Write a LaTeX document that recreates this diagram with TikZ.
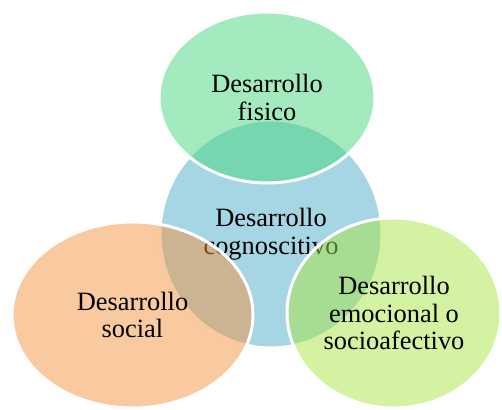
\documentclass[tikz,border=0pt]{standalone}
\usepackage{fontspec}
\setmainfont{Liberation Serif}
\usetikzlibrary{shapes.geometric}

\definecolor{cogblue}{RGB}{166,213,227}
\definecolor{fisgreen}{RGB}{71,215,125}
\definecolor{socorange}{RGB}{243,147,65}
\definecolor{emolime}{RGB}{167,229,69}

\tikzset{
	area/.style={ellipse, draw=white, line width=1.5pt, inner sep=0pt,
		align=center, font=\fontsize{13.2}{13.8}\selectfont,
		fill opacity=0.5, text opacity=1}
}

\begin{document}
\begin{tikzpicture}[x=0.5pt, y=-0.5pt]
	\useasboundingbox (0,0) rectangle (502,410);

	% Middle area {cog}
	\node [area, fill=cogblue, fill opacity=1, minimum width=111pt, minimum height=114pt]
		(cog) at (271,234) {Desarrollo\\cognoscitivo};

	% Outer areas {fis, soc, emo}
	\node [area, fill=fisgreen, minimum width=108pt, minimum height=85.5pt]
		(fis) at (267,97.5) {Desarrollo\\fisico};
	\node [area, fill=socorange, minimum width=120.5pt, minimum height=93pt]
		(soc) at (132.5,315) {Desarrollo\\social};
	\node [area, fill=emolime, minimum width=107pt, minimum height=95pt]
		(emo) at (394,313) {Desarrollo\\emocional o\\socioafectivo};

\end{tikzpicture}
\end{document}
